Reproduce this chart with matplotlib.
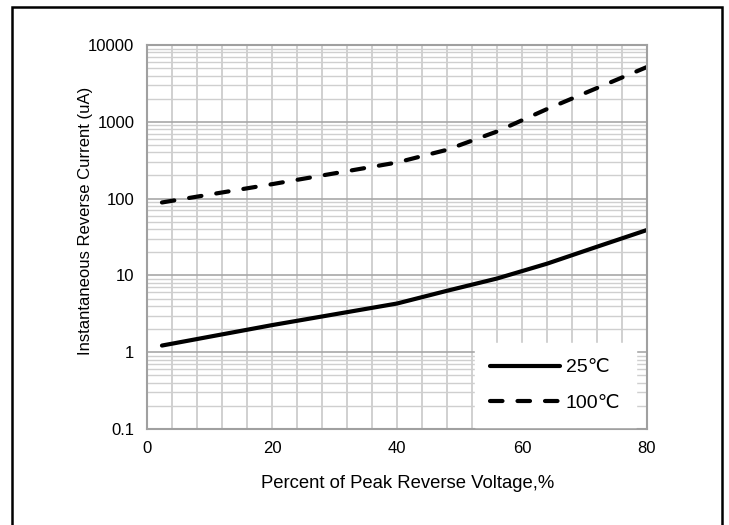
import matplotlib.pyplot as plt
import numpy as np
from matplotlib.patches import Rectangle

plt.rcParams['font.family'] = ['Liberation Sans', 'DejaVu Sans']

volt = [2.4, 20, 40, 48, 56, 64, 72, 80]
cur_25 = [1.22, 2.25, 4.3, 6.3, 9.1, 14.2, 23.6, 39]
cur_100 = [89, 154, 295, 432, 747, 1464, 2750, 5170]

fig = plt.figure(figsize=(7.29, 5.25), dpi=100)
ax = fig.add_axes([0.2016, 0.1829, 0.6859, 0.7314])

ax.set_yscale('log')
ax.set_xlim(0, 80)
ax.set_ylim(0.1, 10000)

# grid, excel style
for xv in np.arange(4, 80, 4):
    ax.axvline(xv, color='#c8c8c8', lw=1.2, zorder=0)
for dec in [0.1, 1, 10, 100, 1000]:
    for k in range(2, 10):
        ax.axhline(dec * k, color='#cfcfcf', lw=1.0, zorder=0)
    if dec > 0.1:
        ax.axhline(dec, color='#a8a8a8', lw=1.2, zorder=0)

l1, = ax.plot(volt, cur_25, color='black', lw=3.0, solid_capstyle='round', label='25℃')
l2, = ax.plot(volt, cur_100, color='black', lw=3.0, dashes=(3.0, 3.6),
              dash_capstyle='round', label='100℃')

for s in ax.spines.values():
    s.set_color('#a0a0a0')
    s.set_linewidth(1.5)

ax.set_xticks([0, 20, 40, 60, 80])
ax.set_yticks([0.1, 1, 10, 100, 1000, 10000])
ax.set_yticklabels(['0.1', '1', '10', '100', '1000', '10000'])
ax.yaxis.set_minor_locator(plt.NullLocator())
ax.tick_params(length=0, labelsize=12, pad=9, colors='black')

ax.set_xlabel('Percent of Peak Reverse Voltage,%', fontsize=13.3)
ax.set_ylabel('Instantaneous Reverse Current (uA)', fontsize=12)
ax.xaxis.set_label_coords(0.521, -0.12)
ax.yaxis.set_label_coords(-0.108, 0.542)

leg = ax.legend(handles=[l1, l2], loc='lower right', frameon=True, fontsize=14,
                handlelength=3.6, borderaxespad=0.0, borderpad=0.8,
                labelspacing=0.9, handletextpad=0.3, fancybox=False,
                bbox_to_anchor=(0.978, 0.005))
leg.get_frame().set_edgecolor('white')
leg.get_frame().set_alpha(1)

fig.add_artist(Rectangle((12 / 729, -0.02), 710 / 729, 1.02 - 7 / 525,
                         transform=fig.transFigure, fill=False,
                         edgecolor='black', lw=1.8, clip_on=False))

fig.savefig('out.png', dpi=100)
